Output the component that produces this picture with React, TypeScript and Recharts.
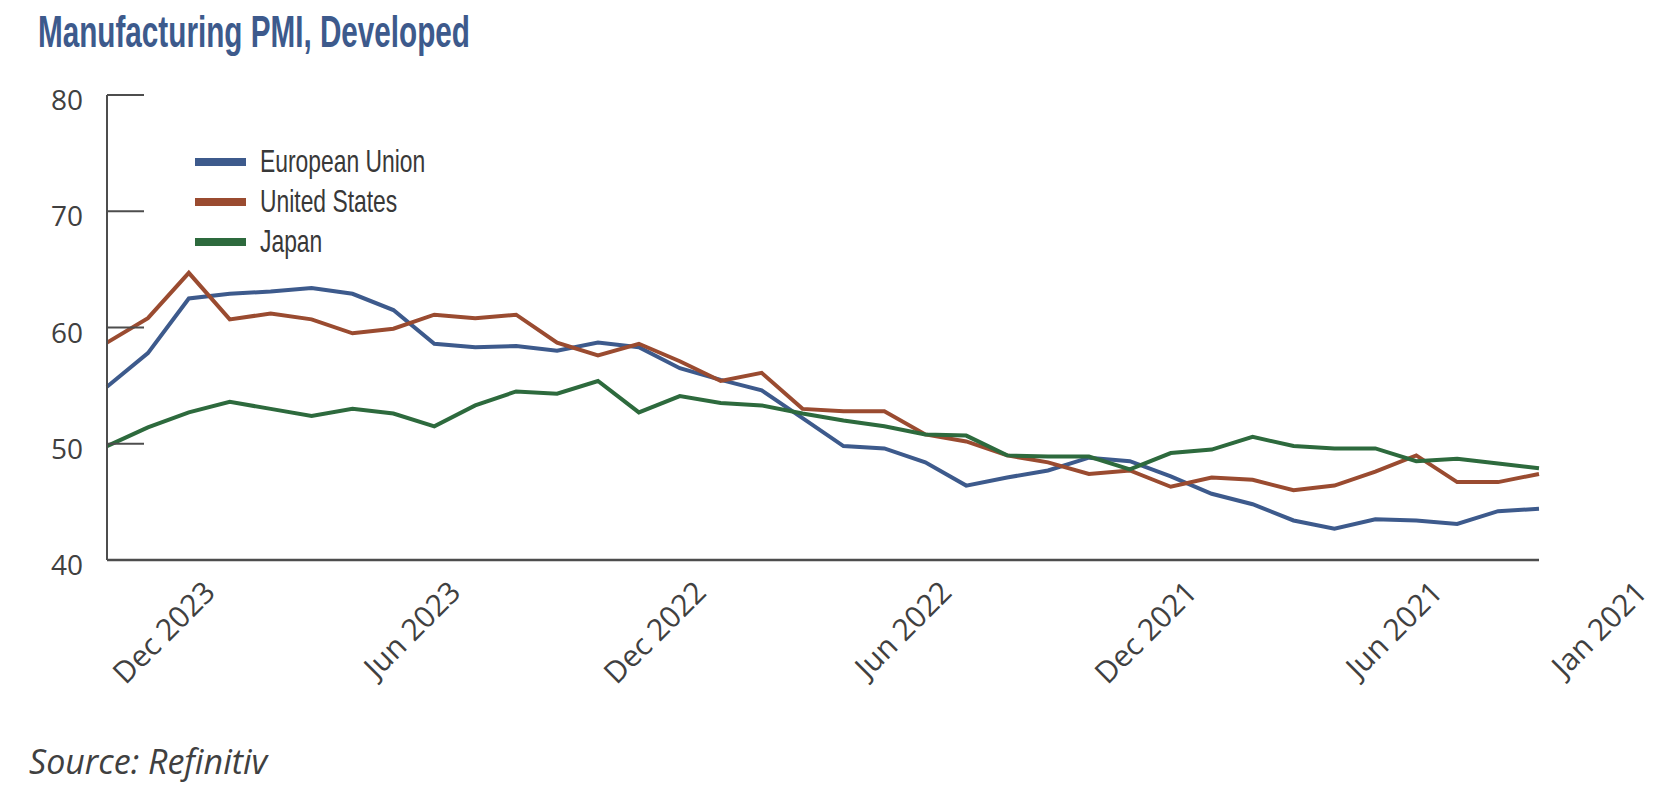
import React from "react";
import { LineChart, Line, XAxis, YAxis, Legend } from "recharts";

// --- Data (monthly, newest first) ---

const MONTHS = [
  "Dec 2023", "Nov 2023", "Oct 2023", "Sep 2023", "Aug 2023", "Jul 2023",
  "Jun 2023", "May 2023", "Apr 2023", "Mar 2023", "Feb 2023", "Jan 2023",
  "Dec 2022", "Nov 2022", "Oct 2022", "Sep 2022", "Aug 2022", "Jul 2022",
  "Jun 2022", "May 2022", "Apr 2022", "Mar 2022", "Feb 2022", "Jan 2022",
  "Dec 2021", "Nov 2021", "Oct 2021", "Sep 2021", "Aug 2021", "Jul 2021",
  "Jun 2021", "May 2021", "Apr 2021", "Mar 2021", "Feb 2021", "Jan 2021",
];

const EU_PMI = [
  54.9, 57.8, 62.5, 62.9, 63.1, 63.4, 62.9, 61.5, 58.6, 58.3, 58.4, 58.0,
  58.7, 58.3, 56.5, 55.5, 54.6, 52.2, 49.8, 49.6, 48.4, 46.4, 47.1, 47.7,
  48.8, 48.5, 47.2, 45.7, 44.8, 43.4, 42.7, 43.5, 43.4, 43.1, 44.2, 44.4,
];

const US_PMI = [
  58.7, 60.8, 64.7, 60.7, 61.2, 60.7, 59.5, 59.9, 61.1, 60.8, 61.1, 58.7,
  57.6, 58.6, 57.1, 55.4, 56.1, 53.0, 52.8, 52.8, 50.8, 50.2, 49.0, 48.4,
  47.4, 47.7, 46.3, 47.1, 46.9, 46.0, 46.4, 47.6, 49.0, 46.7, 46.7, 47.4,
];

const JAPAN_PMI = [
  49.8, 51.4, 52.7, 53.6, 53.0, 52.4, 53.0, 52.6, 51.5, 53.3, 54.5, 54.3,
  55.4, 52.7, 54.1, 53.5, 53.3, 52.6, 52.0, 51.5, 50.8, 50.7, 49.0, 48.9,
  48.9, 47.8, 49.2, 49.5, 50.6, 49.8, 49.6, 49.6, 48.5, 48.7, 48.3, 47.9,
];

const X_TICKS = ["Dec 2023", "Jun 2023", "Dec 2022", "Jun 2022", "Dec 2021", "Jun 2021", "Jan 2021"];
const Y_TICKS = [40, 50, 60, 70, 80];

const SERIES = [
  { key: "eu", name: "European Union", color: "#3D5A8C" },
  { key: "us", name: "United States", color: "#9A4B30" },
  { key: "japan", name: "Japan", color: "#2D6A3D" },
];

const chartData = MONTHS.map((month, i) => ({
  month,
  eu: EU_PMI[i],
  us: US_PMI[i],
  japan: JAPAN_PMI[i],
}));

// --- Styling ---

const WIDTH = 1674;
const HEIGHT = 796;
const AXIS_COLOR = "#4D4D4D";
const LABEL_COLOR = "#404040";
const TITLE_COLOR = "#3D5A8C";
const SANS = "'Open Sans', 'DejaVu Sans', sans-serif";
const NARROW = "'Liberation Sans Narrow', 'Liberation Sans', sans-serif";
const Y_TICK_MARGIN = 24;
const Y_TICK_LENGTH = 37;

// Y ticks point into the plot; labels sit a little below the tick
function YTick(props: any)
{
  const { x, y, payload } = props;
  const axisX = x + Y_TICK_MARGIN;
  return (
    <g>
      <line x1={axisX} x2={axisX + Y_TICK_LENGTH} y1={y} y2={y} stroke={AXIS_COLOR} strokeWidth={2} />
      <text x={x} y={y + 15} textAnchor="end" fontFamily={SANS} fontSize={28} fill={LABEL_COLOR}>
        {payload.value}
      </text>
    </g>
  );
}

// Month labels slanted at 45 degrees
function XTick(props: any)
{
  const { x, y, payload } = props;
  const ax = x + 110;
  const ay = y + 34;
  return (
    <text
      x={ax}
      y={ay}
      transform={`rotate(-45, ${ax}, ${ay})`}
      textAnchor="end"
      fontFamily={SANS}
      fontSize={30}
      fill={LABEL_COLOR}
    >
      {payload.value}
    </text>
  );
}

function LegendBox(props: any)
{
  const { payload } = props;
  // keep series order rather than the legend's alphabetical sort
  const items = SERIES.map((s) => (payload || []).find((p: any) => p.value === s.name)).filter(Boolean);
  return (
    <svg width={300} height={130}>
      {items.map((entry: any, i: number) => {
        const rowY = 22 + i * 40;
        return (
          <g key={entry.value}>
            <line x1={0} x2={51} y1={rowY} y2={rowY} stroke={entry.color} strokeWidth={8} />
            <text
              x={65}
              y={rowY + 10.5}
              fontFamily={NARROW}
              fontSize={32}
              fill="#383838"
              transform={`translate(65 0) scale(0.715 1) translate(-65 0)`}
            >
              {entry.value}
            </text>
          </g>
        );
      })}
    </svg>
  );
}

export default function App()
{
  return (
    <div style={{ position: "absolute", left: 0, top: 0, width: WIDTH, height: HEIGHT, background: "#fff" }}>
      <svg width={WIDTH} height={HEIGHT} style={{ position: "absolute", left: 0, top: 0 }}>
        <text
          x={38}
          y={47}
          fontFamily={NARROW}
          fontWeight="bold"
          fontSize={44}
          fill={TITLE_COLOR}
          textLength={432}
          lengthAdjust="spacingAndGlyphs"
        >
          Manufacturing PMI, Developed
        </text>
        <text x={29} y={774} fontFamily={SANS} fontStyle="italic" fontSize={34} fill={LABEL_COLOR}>
          Source: Refinitiv
        </text>
      </svg>
      <div style={{ position: "absolute", left: 0, top: 0 }}>
        <LineChart
          width={WIDTH}
          height={HEIGHT}
          data={chartData}
          margin={{ top: 95, right: 135, left: 0, bottom: 0 }}
        >
          <XAxis
            dataKey="month"
            ticks={X_TICKS}
            interval={0}
            height={236}
            tickSize={0}
            tickMargin={0}
            tickLine={false}
            tick={<XTick />}
            axisLine={{ stroke: AXIS_COLOR, strokeWidth: 2.5 }}
          />
          <YAxis
            domain={[40, 80]}
            ticks={Y_TICKS}
            width={107}
            tickSize={0}
            tickMargin={Y_TICK_MARGIN}
            tickLine={false}
            tick={<YTick />}
            axisLine={{ stroke: AXIS_COLOR, strokeWidth: 2 }}
          />
          <Legend
            layout="vertical"
            align="center"
            verticalAlign="middle"
            width={300}
            height={130}
            wrapperStyle={{ position: "absolute", left: 195, top: 140 }}
            content={<LegendBox />}
          />
          {SERIES.map((s) => (
            <Line
              key={s.key}
              type="linear"
              dataKey={s.key}
              name={s.name}
              stroke={s.color}
              strokeWidth={4}
              dot={false}
              activeDot={false}
              isAnimationActive={false}
            />
          ))}
        </LineChart>
      </div>
    </div>
  );
}
